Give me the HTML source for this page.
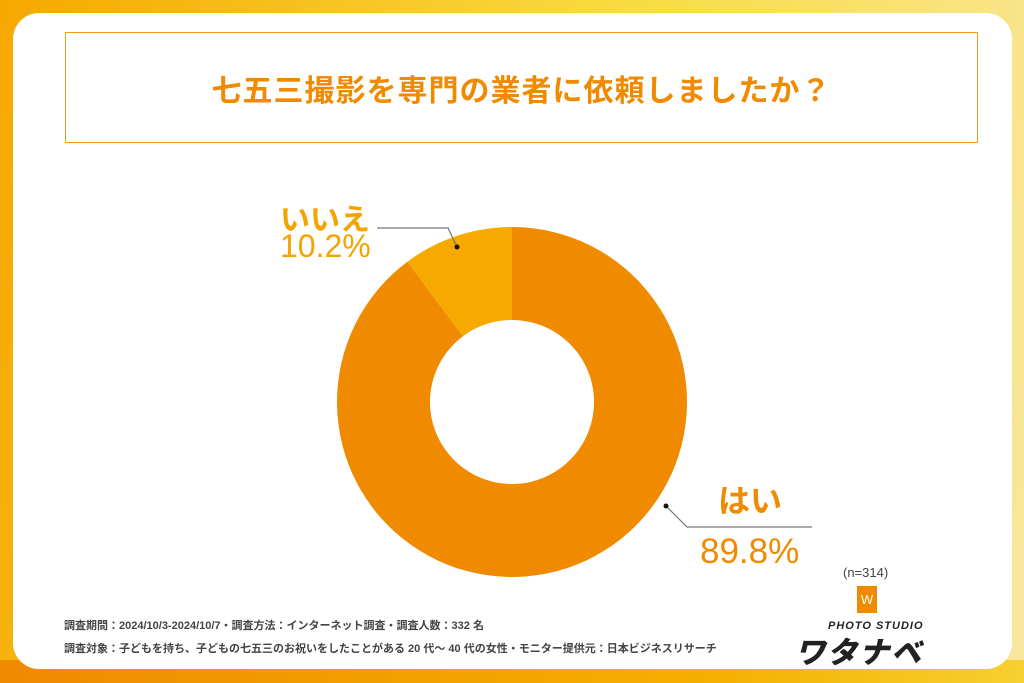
<!DOCTYPE html>
<html><head><meta charset="utf-8"><style>
body{margin:0;width:1024px;height:683px;overflow:hidden;font-family:"Liberation Sans","Noto Sans CJK JP",sans-serif;}
#bg{position:absolute;left:0;top:0;width:1024px;height:683px;background:linear-gradient(100deg,#f6a800 0%,#f8dc40 55%,#f8e7a0 100%);}
#bg2{position:absolute;left:0;top:660px;width:1024px;height:23px;background:linear-gradient(90deg,#f08a00 0%,#f5b000 70%,#f6d030 100%);}
#card{position:absolute;left:13px;top:13px;width:999px;height:656px;background:#fff;border-radius:26px;}
#title{position:absolute;left:65px;top:32px;width:911px;height:109px;border:1.5px solid #f39a1e;display:flex;align-items:center;justify-content:center;color:#f08a00;font-size:30px;font-weight:bold;letter-spacing:1px;font-family:"Liberation Sans","Noto Sans CJK JP",sans-serif;}
.t{position:absolute;color:#f5a300;font-weight:bold;font-family:"Liberation Sans","Noto Sans CJK JP",sans-serif;}
.n{position:absolute;font-size:11px;color:#444;font-family:"Liberation Sans","Noto Sans CJK JP",sans-serif;font-weight:bold;}
</style></head><body>
<div id="bg"></div>
<div id="bg2"></div>
<div id="card"></div>
<div id="title">七五三撮影を専門の業者に依頼しましたか？</div>
<svg id="chart" width="1024" height="683" style="position:absolute;left:0;top:0"></svg>
<div class="t" style="left:280px;top:195px;font-size:30px;">いいえ</div>
<div class="t" style="left:280px;top:228px;font-size:32px;font-weight:normal;">10.2%</div>
<div class="t" style="left:718px;top:476px;font-size:32px;color:#f08a00;">はい</div>
<div class="t" style="left:700px;top:532px;font-size:35px;color:#f08a00;font-weight:normal;">89.8%</div>
<div class="n" style="left:843px;top:565px;font-size:13px;font-weight:normal;">(n=314)</div>
<div class="n" style="left:64px;top:617px;">調査期間：2024/10/3-2024/10/7・調査方法：インターネット調査・調査人数：332 名</div>
<div class="n" style="left:64px;top:640px;">調査対象：子どもを持ち、子どもの七五三のお祝いをしたことがある 20 代～ 40 代の女性・モニター提供元：日本ビジネスリサーチ</div>
<div style="position:absolute;left:857px;top:586px;width:20px;height:27px;background:#f08a00;color:#fff;font-size:13px;text-align:center;line-height:27px;">W</div>
<div style="position:absolute;left:828px;top:620px;font-size:11px;font-weight:bold;font-style:italic;color:#222;letter-spacing:1px;">PHOTO STUDIO</div>
<div style="position:absolute;left:795px;top:628px;font-size:30px;font-weight:900;color:#222;font-style:italic;letter-spacing:2px;">ワタナベ</div>
<script>
const categories=["はい","いいえ"];
const values=[89.8,10.2];
const colors=["#f08a00","#f6aa00"];
const svg=document.getElementById('chart');
const NS="http://www.w3.org/2000/svg";
const cx=512,cy=402,R=175,r=82;
const total=values.reduce((a,b)=>a+b,0);
function pt(frac,rad){const a=-Math.PI/2+frac*2*Math.PI;return[cx+rad*Math.cos(a),cy+rad*Math.sin(a)];}
let acc=0;
values.forEach((v,i)=>{
  const f0=acc/total,f1=(acc+v)/total;acc+=v;
  const [x0,y0]=pt(f0,R),[x1,y1]=pt(f1,R),[x2,y2]=pt(f1,r),[x3,y3]=pt(f0,r);
  const large=(f1-f0)>0.5?1:0;
  const p=document.createElementNS(NS,'path');
  p.setAttribute('d',`M${x0},${y0}A${R},${R} 0 ${large} 1 ${x1},${y1}L${x2},${y2}A${r},${r} 0 ${large} 0 ${x3},${y3}Z`);
  p.setAttribute('fill',colors[i]);
  
  
  svg.appendChild(p);
});
function leader(pts,dot,name){
  const l=document.createElementNS(NS,'polyline');
  l.setAttribute('points',pts);l.setAttribute('fill','none');l.setAttribute('stroke','#777');l.setAttribute('stroke-width','1.2');
  
  
  svg.appendChild(l);
  const c=document.createElementNS(NS,'circle');
  c.setAttribute('cx',dot[0]);c.setAttribute('cy',dot[1]);c.setAttribute('r','2.5');c.setAttribute('fill','#111');
  
  
  svg.appendChild(c);
}
leader("377,228 448,228 457,247",[457,247],'leader-no');
leader("666,506 687,527 812,527",[666,506],'leader-yes');
</script>
</body></html>
